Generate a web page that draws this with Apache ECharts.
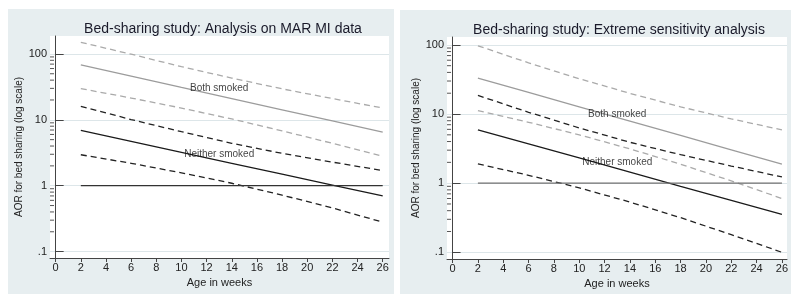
<!DOCTYPE html>
<html>
<head>
<meta charset="utf-8">
<script src="https://cdn.jsdelivr.net/npm/echarts@6/dist/echarts.min.js"></script>
<style>
  html, body { margin: 0; padding: 0; background: #fff; }
  #chart { width: 800px; height: 304px; }
</style>
</head>
<body>
<div id="chart"></div>
<script>
var weeks = [2, 6, 10, 14, 18, 22, 26];

// left panel: analysis on MAR MI data
var marBoth = [68, 46, 31, 21, 14.2, 9.6, 6.5];
var marBothHi = [150, 99, 64, 43, 29.5, 21, 15.1];
var marBothLo = [29.8, 21.4, 15.1, 10.3, 6.8, 4.4, 2.8];
var marNeither = [6.9, 4.7, 3.2, 2.19, 1.5, 1.02, 0.7];
var marNeitherHi = [16, 10.1, 6.6, 4.4, 3.1, 2.28, 1.7];
var marNeitherLo = [2.95, 2.19, 1.57, 1.09, 0.72, 0.46, 0.28];

// right panel: extreme sensitivity analysis
var extBoth = [33, 20.5, 12.7, 7.9, 4.9, 3.03, 1.88];
var extBothHi = [97, 55, 32.4, 19.9, 12.7, 8.5, 5.9];
var extBothLo = [11.2, 7.6, 5.0, 3.13, 1.88, 1.08, 0.6];
var extNeither = [5.9, 3.7, 2.32, 1.45, 0.9, 0.565, 0.353];
var extNeitherHi = [18.6, 10.6, 6.3, 3.9, 2.58, 1.77, 1.23];
var extNeitherLo = [1.9, 1.3, 0.855, 0.533, 0.317, 0.18, 0.1];

var refWeeks = [2, 26];
var refLine = [1, 1];

var xTicks = [0, 2, 4, 6, 8, 10, 12, 14, 16, 18, 20, 22, 24, 26];
var yTicks = [0.1, 1, 10, 100];
var yTickLabels = ['.1', '1', '10', '100'];
var yMinorTicks = [];
[0.1, 1, 10, 100].forEach(function (d) {
  for (var k = 2; k <= 9; k++) yMinorTicks.push(+(d * k).toFixed(4));
});

var titles = ['Bed-sharing study: Analysis on MAR MI data', 'Bed-sharing study: Extreme sensitivity analysis'];
var notes = [
  [{ value: [13, 30], name: 'Both smoked' }, { value: [13, 3], name: 'Neither smoked' }],
  [{ value: [13, 10], name: 'Both smoked' }, { value: [13, 2], name: 'Neither smoked' }]
];

var xRange = [[-0.45, 26.5], [-0.44, 26.4]];
var yRange = [[0.08, 187], [0.08, 130]];

var BG = '#e7eef0';
var FONT = 'Liberation Sans, Arial, sans-serif';

function pairs(xs, ys) {
  return xs.map(function (x, i) { return [x, ys[i]]; });
}

function lineSeries(gi, ys, color, dashed, xs) {
  return {
    type: 'line',
    xAxisIndex: gi,
    yAxisIndex: gi,
    data: pairs(xs || weeks, ys),
    showSymbol: false,
    symbol: 'none',
    silent: true,
    lineStyle: { color: color, width: 1.3, type: dashed ? [6, 4] : 'solid' },
    z: 3
  };
}

function yAxis(gi) {
  return {
    type: 'log',
    gridIndex: gi,
    min: yRange[gi][0],
    max: yRange[gi][1],
    name: 'AOR for bed sharing (log scale)',
    nameLocation: 'middle',
    nameRotate: 90,
    nameGap: 21,
    nameTextStyle: { fontFamily: FONT, fontSize: 10, color: '#222' },
    axisLine: { show: true, lineStyle: { color: '#444', width: 1 } },
    axisTick: { show: true, inside: true, length: 8, customValues: yTicks, lineStyle: { color: '#444' } },
    axisLabel: {
      customValues: yTicks, margin: 3, fontFamily: FONT, fontSize: 11, color: '#222',
      formatter: function (v) { return yTickLabels[yTicks.indexOf(+v)] || ''; }
    },
    splitLine: { show: true, lineStyle: { color: '#dde6e9', width: 1 } }
  };
}

function xAxis(gi) {
  return {
    type: 'value',
    gridIndex: gi,
    min: xRange[gi][0],
    max: xRange[gi][1],
    name: 'Age in weeks',
    nameLocation: 'middle',
    nameGap: 13,
    nameTextStyle: { fontFamily: FONT, fontSize: 11, color: '#222' },
    axisLine: { show: true, lineStyle: { color: '#444', width: 1 } },
    axisTick: { show: true, length: 4, customValues: xTicks, lineStyle: { color: '#444' } },
    axisLabel: { customValues: xTicks, margin: 4, fontFamily: FONT, fontSize: 11, color: '#222' },
    splitLine: { show: false }
  };
}

// short inside ticks at 2..9 of each decade, drawn as broken line segments
function minorTickSeries(gi) {
  var x0 = xRange[gi][0];
  var x1 = x0 + 0.32;
  var data = [];
  yMinorTicks.forEach(function (v) {
    if (v > yRange[gi][1]) return;
    data.push([x0, v], [x1, v], '-');
  });
  return {
    type: 'line',
    xAxisIndex: gi,
    yAxisIndex: gi,
    data: data,
    connectNulls: false,
    showSymbol: false,
    symbol: 'none',
    silent: true,
    lineStyle: { color: '#555', width: 1 },
    z: 4
  };
}

function noteSeries(gi) {
  return {
    type: 'scatter',
    xAxisIndex: gi,
    yAxisIndex: gi,
    data: notes[gi],
    symbolSize: 0,
    silent: true,
    label: {
      show: true, position: 'inside', formatter: '{b}',
      fontFamily: FONT, fontSize: 10, color: '#111'
    },
    z: 5
  };
}

function panel(gi, d) {
  return [
    lineSeries(gi, d.hiB, '#aaaaaa', true),
    lineSeries(gi, d.estB, '#9c9c9c', false),
    lineSeries(gi, d.loB, '#aaaaaa', true),
    lineSeries(gi, d.hiN, '#222222', true),
    lineSeries(gi, d.estN, '#1a1a1a', false),
    lineSeries(gi, d.loN, '#222222', true),
    lineSeries(gi, refLine, gi === 0 ? '#333333' : '#707070', false, refWeeks),
    minorTickSeries(gi),
    noteSeries(gi)
  ];
}

var chart = echarts.init(document.getElementById('chart'), null, { renderer: 'canvas' });

chart.setOption({
  backgroundColor: '#ffffff',
  animation: false,
  graphic: [
    { type: 'rect', shape: { x: 8, y: 9, width: 386, height: 285 }, style: { fill: BG }, z: -10 },
    { type: 'rect', shape: { x: 400, y: 10, width: 391, height: 284 }, style: { fill: BG }, z: -10 }
  ],
  title: [
    { text: titles[0], left: 218, top: 17, textAlign: 'center',
      textStyle: { fontFamily: FONT, fontSize: 14, fontWeight: 'normal', color: '#1a1a2a' } },
    { text: titles[1], left: 614, top: 18, textAlign: 'center',
      textStyle: { fontFamily: FONT, fontSize: 14, fontWeight: 'normal', color: '#1a1a2a' } }
  ],
  grid: [
    { left: 50, top: 36, width: 339, height: 222, show: true, backgroundColor: '#fff', borderWidth: 0 },
    { left: 447, top: 37, width: 340, height: 222, show: true, backgroundColor: '#fff', borderWidth: 0 }
  ],
  xAxis: [xAxis(0), xAxis(1)],
  yAxis: [yAxis(0), yAxis(1)],
  series: panel(0, {
    hiB: marBothHi, estB: marBoth, loB: marBothLo,
    hiN: marNeitherHi, estN: marNeither, loN: marNeitherLo
  }).concat(panel(1, {
    hiB: extBothHi, estB: extBoth, loB: extBothLo,
    hiN: extNeitherHi, estN: extNeither, loN: extNeitherLo
  }))
});
</script>
</body>
</html>
